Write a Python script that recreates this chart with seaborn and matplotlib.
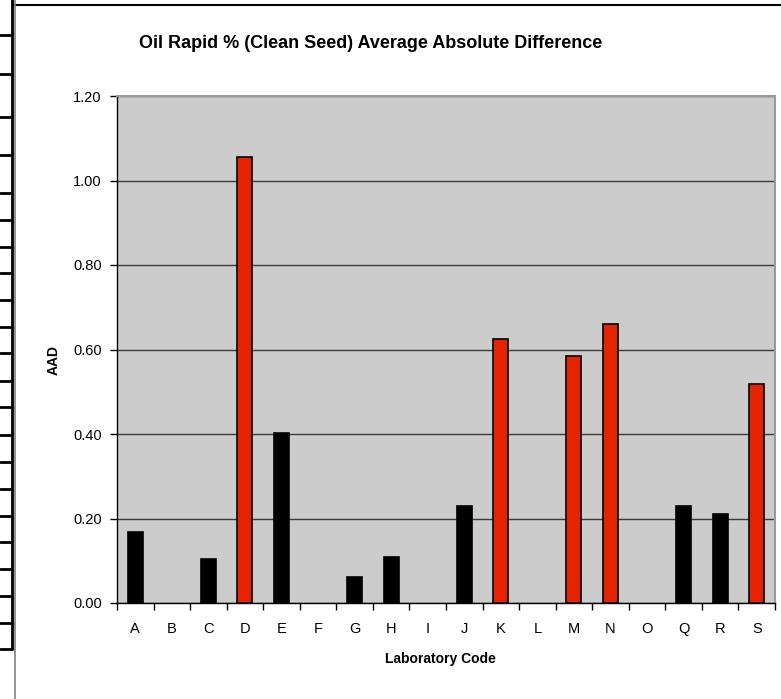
import numpy as np
import pandas as pd
import matplotlib.pyplot as plt
from matplotlib.lines import Line2D
import seaborn as sns

# --- DATA ---
lab_codes = ['A', 'B', 'C', 'D', 'E', 'F', 'G', 'H', 'I',
             'J', 'K', 'L', 'M', 'N', 'O', 'Q', 'R', 'S']
# labs with no result are left empty (NaN)
aad_values = [0.168, np.nan, 0.104, 1.056, 0.402, np.nan, 0.062, 0.109, np.nan,
              0.230, 0.625, np.nan, 0.585, 0.660, np.nan, 0.229, 0.211, 0.518]
flagged = [False, False, False, True, False, False, False, False, False,
           False, True, False, True, True, False, False, False, True]

df = pd.DataFrame({'Lab': lab_codes, 'AAD': aad_values,
                   'Flag': ['high' if f else 'ok' for f in flagged]})

# --- PLOT ---
sns.set_theme(style="white")
plt.rcParams['font.family'] = ['Liberation Sans', 'DejaVu Sans']
plt.rcParams['text.color'] = 'black'
plt.rcParams['axes.labelcolor'] = 'black'
plt.rcParams['xtick.color'] = 'black'
plt.rcParams['ytick.color'] = 'black'

W, H = 781, 699
fig = plt.figure(figsize=(W / 100, H / 100), dpi=100)
ax = fig.add_axes([117 / W, 1 - 603 / H, 658 / W, 507 / H])
ax.set_facecolor('#CCCCCC')

sns.barplot(data=df, x='Lab', y='AAD', hue='Flag',
            palette={'high': '#E32400', 'ok': '#000000'}, saturation=1,
            order=lab_codes, width=0.41, edgecolor='black', linewidth=1.2,
            legend=False, dodge=False, ax=ax, zorder=3)

ax.set_ylim(0, 1.2)
ax.set_xlim(-0.5, len(lab_codes) - 0.5)
yt = np.arange(0, 1.21, 0.2)
ax.set_yticks(yt)
ax.set_yticklabels([f'{v:.2f}' for v in yt], fontsize=10.5)
ax.yaxis.grid(True, color='#3a3a3a', linewidth=1, zorder=1)
ax.set_axisbelow(True)

# x ticks between categories, labels centred
ax.set_xticks(np.arange(len(lab_codes)))
ax.set_xticklabels(lab_codes, fontsize=10.5)
ax.set_xticks(np.arange(-0.5, len(lab_codes)), minor=True)
ax.tick_params(axis='x', which='major', length=0, pad=14)
ax.tick_params(axis='x', which='minor', direction='out', length=5, width=1, color='black', bottom=True)
ax.tick_params(axis='y', direction='out', length=5, width=1, color='black', left=True, pad=6)

for side in ['left', 'bottom']:
    ax.spines[side].set_color('black')
    ax.spines[side].set_linewidth(1)
for side in ['top', 'right']:
    ax.spines[side].set_color('#9a9a9a')
    ax.spines[side].set_linewidth(1.5)

ax.set_xlabel('Laboratory Code', fontsize=10, fontweight='bold')
ax.set_ylabel('AAD', fontsize=10, fontweight='bold')
ax.xaxis.set_label_coords(0.5 - (117 + 329 - 440) / 658, -49 / 507)
ax.yaxis.set_label_coords((61 - 117) / 658, (603 - 360) / 507)
fig.text(371 / W, 1 - 43 / H, 'Oil Rapid % (Clean Seed) Average Absolute Difference',
         ha='center', va='center', fontsize=13, fontweight='bold')

# spreadsheet border on the left / top
def px_line(x0, y0, x1, y1, color='black', lw=1.5):
    fig.add_artist(Line2D([x0 / W, x1 / W], [1 - y0 / H, 1 - y1 / H],
                          transform=fig.transFigure, color=color, linewidth=lw))

px_line(13, 5, W, 5, lw=1.5)
px_line(12, 0, 12, 649, lw=2)
px_line(14.5, 0, 14.5, H, color='#808080', lw=1.2)
row_lines = [35, 74, 117, 155, 193, 220, 247, 273, 300, 327, 353, 381, 407,
             435, 462, 489, 516, 542, 569, 596, 623, 649]
for yy in row_lines:
    px_line(0, yy, 12, yy, lw=2)

plt.savefig('out.png', dpi=100)
